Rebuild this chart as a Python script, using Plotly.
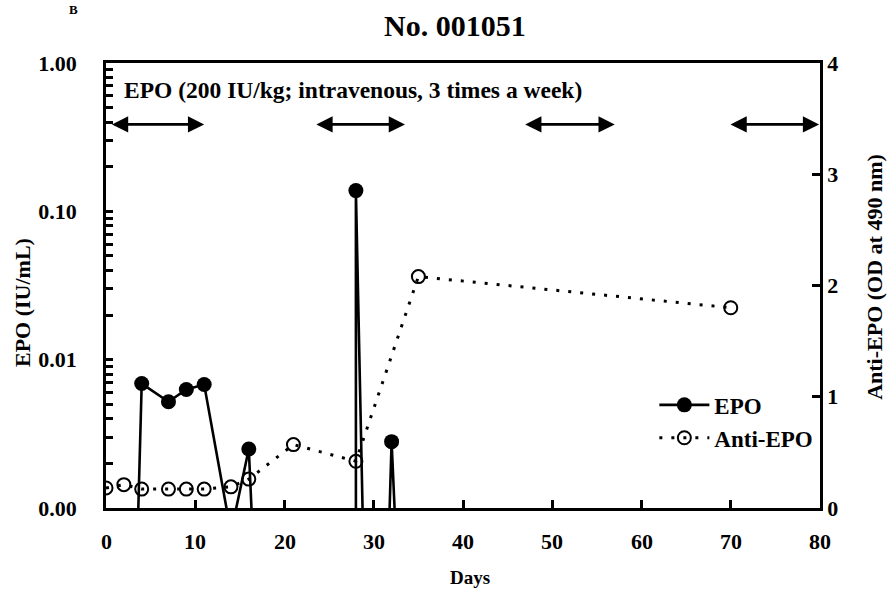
import plotly.graph_objects as go

# ---- data ----
epo_days = [0, 2, 4, 7, 9, 11, 14, 16, 19, 21, 28, 28, 30, 32, 35, 70]
# undetectable samples are plotted far below the axis floor (as in the original log plot)
epo_vals = [2.5e-7, 2.5e-7, 0.0069, 0.0052, 0.0063, 0.0068, 0.00068, 0.0025,
            2.5e-7, 2.5e-7, 2.5e-7, 0.138, 2.5e-7, 0.0028, 2.5e-7, 2.5e-7]

anti_days = [0, 2, 4, 7, 9, 11, 14, 16, 21, 28, 35, 70]
anti_vals = [0.18, 0.21, 0.17, 0.17, 0.17, 0.17, 0.19, 0.26, 0.57, 0.42, 2.08, 1.80]

dosing_periods = [(0.5, 11.0), (23.4, 33.5), (46.8, 57.0), (69.8, 79.9)]

x_ticks = [0, 10, 20, 30, 40, 50, 60, 70, 80]
right_ticks = [0, 1, 2, 3, 4]
left_decades = [0.001, 0.01, 0.1, 1]
left_decade_labels = ["0.00", "0.01", "0.10", "1.00"]

FONT = "Liberation Serif"
PAD = "\u00a0" * 4


def bold(size):
    return dict(family=FONT, size=size, color="black", weight="bold")


# log-axis tick marks: every digit 1..9 in each decade, labels only on decades
left_tickvals, left_ticktext = [], []
for dec, lab in zip(left_decades, left_decade_labels):
    for k in range(1, 10):
        v = dec * k
        if v > 1.0001:
            break
        left_tickvals.append(v)
        left_ticktext.append(lab + PAD if k == 1 else "")

fig = go.Figure()
fig.add_trace(go.Scatter(
    x=epo_days, y=epo_vals, name="EPO", mode="lines+markers",
    line=dict(color="black", width=2.6),
    marker=dict(symbol="circle", size=15, color="black"),
    yaxis="y",
))
fig.add_trace(go.Scatter(
    x=anti_days, y=anti_vals, name="Anti-EPO", mode="lines+markers",
    line=dict(color="black", width=3, dash="3px,9px"),
    marker=dict(symbol="circle-open", size=13, color="black", line=dict(width=2)),
    yaxis="y2",
))

annotations = []
for a, b in dosing_periods:
    annotations.append(dict(
        x=b, y=0.862, ax=a, ay=0, xref="x", yref="paper", axref="x", ayref="pixel",
        showarrow=True, arrowside="end+start", arrowhead=2, arrowsize=1.25,
        arrowwidth=2.6, arrowcolor="black", text="", standoff=0, startstandoff=0,
    ))
# x tick labels (placed a little further below the axis, as in the reference)
for v in x_ticks:
    annotations.append(dict(
        x=v, y=-0.076, xref="x", yref="paper", xanchor="center", yanchor="middle",
        text=str(v), showarrow=False, font=bold(22),
    ))
annotations += [
    dict(x=0.023, y=0.94, xref="paper", yref="paper", xanchor="left", yanchor="middle",
         text="EPO (200 IU/kg; intravenous, 3 times a week)", showarrow=False, font=bold(23.5)),
    dict(x=-0.116, y=0.461, xref="paper", yref="paper", xanchor="center", yanchor="middle",
         text="EPO (IU/mL)", textangle=-90, showarrow=False, font=bold(22)),
    dict(x=1.076, y=0.52, xref="paper", yref="paper", xanchor="center", yanchor="middle",
         text="Anti-EPO (OD at 490 nm)", textangle=-90, showarrow=False, font=bold(22)),
    dict(x=0.51, y=-0.157, xref="paper", yref="paper", xanchor="center", yanchor="middle",
         text="Days", showarrow=False, font=bold(19)),
    dict(x=-0.045, y=1.1416, xref="paper", yref="paper", xanchor="center", yanchor="top",
         text="B", showarrow=False, font=bold(13)),
]

axis_common = dict(
    showline=True, linecolor="black", linewidth=2.6, ticks="inside",
    tickcolor="black", tickwidth=2.5, showgrid=False, zeroline=False,
    tickfont=bold(22),
)

fig.update_layout(
    width=892, height=590,
    margin=dict(l=106, r=72, t=63, b=82),
    paper_bgcolor="white", plot_bgcolor="white",
    font=dict(family=FONT, color="black", weight="bold"),
    title=dict(text="No. 001051", x=0.51, xanchor="center", y=0.956, yanchor="middle",
               font=bold(30)),
    xaxis=dict(range=[0, 80], tickvals=x_ticks, ticklen=8, mirror=True,
               showticklabels=False, **axis_common),
    yaxis=dict(type="log", range=[-3, 0], tickvals=left_tickvals, ticktext=left_ticktext,
               ticklen=7, **axis_common),
    yaxis2=dict(overlaying="y", side="right", range=[0, 4], tickvals=right_ticks,
                ticklen=8, **axis_common),
    legend=dict(x=0.768, y=0.28, xanchor="left", yanchor="top",
                font=bold(23), bgcolor="rgba(0,0,0,0)", itemwidth=50, tracegroupgap=0),
    annotations=annotations,
    showlegend=True,
)

fig.write_html("out.html")
